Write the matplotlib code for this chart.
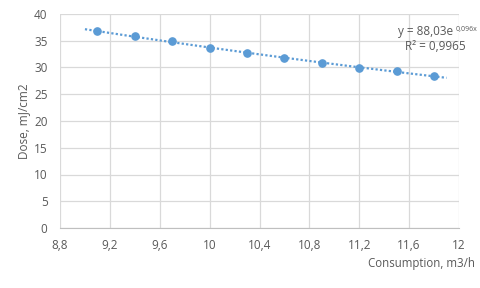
import numpy as np
import matplotlib.pyplot as plt
from matplotlib.ticker import FuncFormatter

consumption = [9.1, 9.4, 9.7, 10.0, 10.3, 10.6, 10.9, 11.2, 11.5, 11.8]	#m3/h
dose = [36.8, 35.9, 34.9, 33.6, 32.7, 31.7, 30.8, 29.9, 29.3, 28.5]	#mJ/cm2
trend_range = [9.0, 11.9]	#extent of the exponential trendline
eq_text = 'y = 88,03e'
eq_exp = '0,096x'
r2_text = 'R² = 0,9965'

blue = '#5b9bd5'
grey = '#595959'
plt.rcParams['font.family'] = ['Open Sans', 'DejaVu Sans']

fig = plt.figure(figsize=(4.8, 2.88), dpi=100)
ax = fig.add_axes([60/480, 1 - 228/288, (459-60)/480, (228-14)/288])

""" exponential fit y = a*exp(b*x) """
b, ln_a = np.polyfit(consumption, np.log(dose), 1)
x_fit = np.linspace(trend_range[0], trend_range[1], 200)
ax.plot(x_fit, np.exp(ln_a) * np.exp(b * x_fit), ls=(0, (1, 1)), color=blue, lw=1.6, zorder=2)
ax.plot(consumption, dose, 'o', color=blue, ms=5.2, zorder=3)

ax.set_xlim(8.8, 12)
ax.set_ylim(0, 40)
ax.set_xticks(np.arange(8.8, 12.01, 0.4))
ax.set_yticks(np.arange(0, 41, 5))
comma = FuncFormatter(lambda v, p: ('%g' % round(v, 2)).replace('.', ','))
ax.xaxis.set_major_formatter(comma)
ax.yaxis.set_major_formatter(comma)
ax.grid(True, color='#d9d9d9', lw=0.9)
ax.set_axisbelow(True)
for s in ['top', 'right', 'left']:
	ax.spines[s].set_visible(False)
ax.spines['bottom'].set_color('#bfbfbf')
ax.tick_params(length=0, labelsize=8.5, colors=grey, pad=8)
ax.tick_params(axis='y', pad=9)

ax.set_ylabel('Dose, mJ/cm2', fontsize=8.5, color=grey, labelpad=3)
fig.text(475/480, 1 - 264/288, 'Consumption, m3/h', ha='right', va='center', fontsize=8.3, color=grey)

fig.text(453/480, 1 - 32/288, eq_text, ha='right', va='center', fontsize=8.5, color=grey)
fig.text(477/480, 1 - 29/288, eq_exp, ha='right', va='center', fontsize=5, color=grey)
fig.text(466/480, 1 - 46/288, r2_text, ha='right', va='center', fontsize=8.5, color=grey)

plt.savefig('out.png', dpi=100)
